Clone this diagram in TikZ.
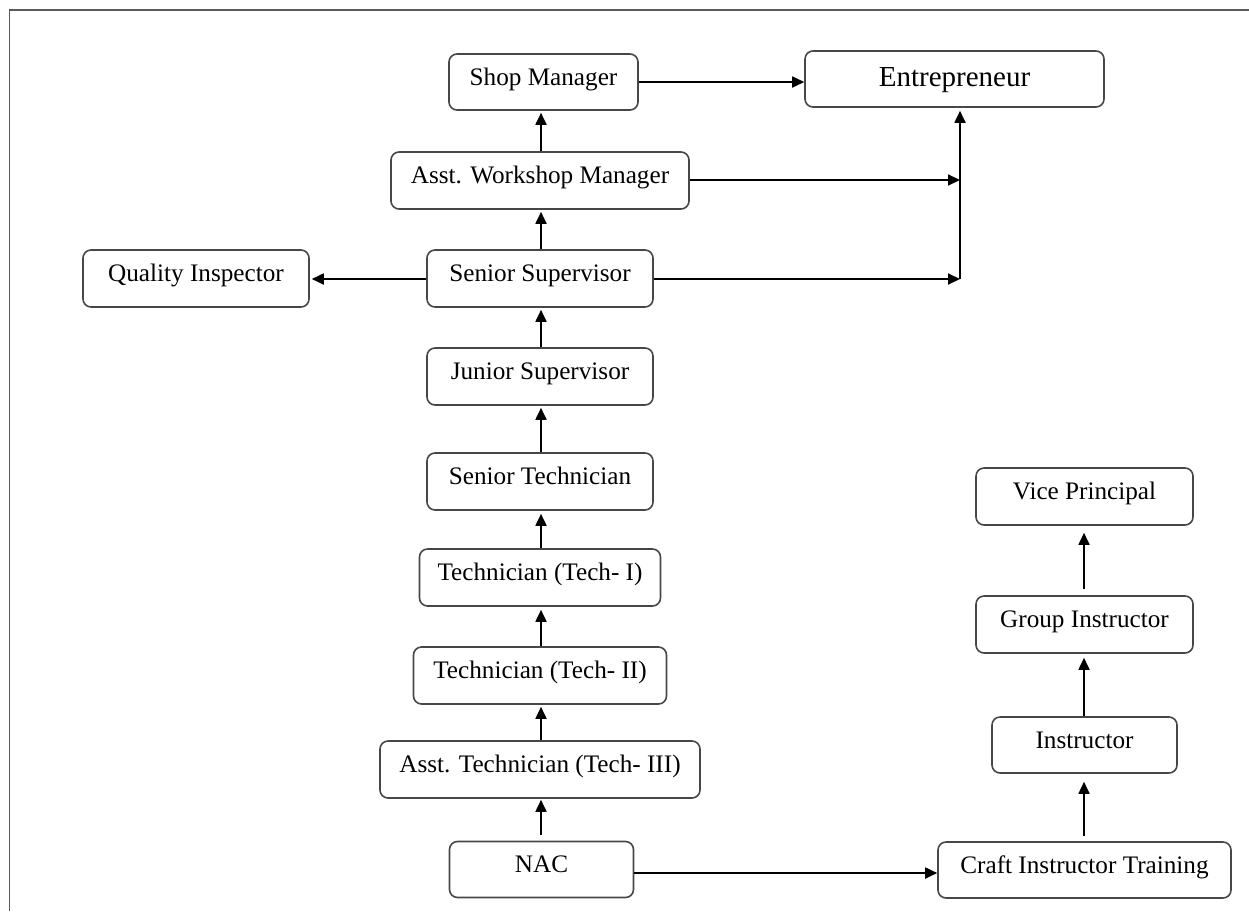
\documentclass[tikz,border=0pt]{standalone}
\usepackage{fontspec}
\setmainfont{Liberation Serif}
\usetikzlibrary{arrows.meta}
\tikzset{
  box/.style={draw=black!72, line width=1.6pt, rounded corners=8pt, fill=white,
    inner sep=0pt, font=\fontsize{25.2}{30}\selectfont, text height=19pt, text depth=13pt},
  bigbox/.style={box, font=\fontsize{29}{34}\selectfont, text height=20pt, text depth=5pt},
  arr/.style={draw=black, line width=1.8pt, -{Triangle[length=12pt,width=11pt]}},
  frameline/.style={draw=black!65, line width=1.6pt}
}
\begin{document}
\begin{tikzpicture}[x=1pt,y=-1pt]
\useasboundingbox (0,0) rectangle (1249,911);
\coordinate (fc) at (9.5,10);
\coordinate (fb) at (9.5,911);
\coordinate (fr) at (1249,10);
\draw[frameline] (fb) -- (fc) -- (fr);

\node[box, minimum width=189pt, minimum height=56pt] (shop) at (543.5,82) {Shop Manager};
\node[bigbox, minimum width=299pt, minimum height=56pt] (entre) at (954.5,79) {Entrepreneur};
\node[box, minimum width=298pt, minimum height=57pt] (awm) at (540,180.5) {Asst. Workshop Manager};
\node[box, minimum width=226pt, minimum height=57pt] (qi) at (196,278.5) {Quality Inspector};
\node[box, minimum width=226pt, minimum height=57pt] (ss) at (540,278.5) {Senior Supervisor};
\node[box, minimum width=226pt, minimum height=57pt] (js) at (540,376.5) {Junior Supervisor};
\node[box, minimum width=226pt, minimum height=57pt] (st) at (540,481.5) {Senior Technician};
\node[box, minimum width=241pt, minimum height=57pt] (t1) at (540,577.5) {Technician (Tech- I)};
\node[box, minimum width=253pt, minimum height=57pt] (t2) at (540,675.5) {Technician (Tech- II)};
\node[box, minimum width=320pt, minimum height=57pt] (t3) at (540,769.5) {Asst. Technician (Tech- III)};
\node[box, minimum width=184pt, minimum height=56pt] (nac) at (541.5,869.5) {NAC};
\node[box, minimum width=293pt, minimum height=56pt] (cit) at (1084.5,870) {Craft Instructor Training};
\node[box, minimum width=185pt, minimum height=56pt] (ins) at (1084.5,745) {Instructor};
\node[box, minimum width=217pt, minimum height=57pt] (gi) at (1084.5,624.5) {Group Instructor};
\node[box, minimum width=217pt, minimum height=57pt] (vp) at (1084.5,496.5) {Vice Principal};

\coordinate (jx) at (960,279);
\coordinate (ja) at (960,180);

% left column
\draw[arr, shorten >=2pt] (awm.north -| 541,0) -- (541,0 |- shop.south);
\draw[arr, shorten >=2pt] (541,0 |- ss.north) -- (541,0 |- awm.south);
\draw[arr, shorten >=2pt] (541,0 |- js.north) -- (541,0 |- ss.south);
\draw[arr, shorten >=2pt] (541,0 |- st.north) -- (541,0 |- js.south);
\draw[arr, shorten >=3pt] (541,0 |- t1.north) -- (541,0 |- st.south);
\draw[arr, shorten >=3pt] (541,0 |- t2.north) -- (541,0 |- t1.south);
\draw[arr, shorten >=2pt] (541,0 |- t3.north) -- (541,0 |- t2.south);
\draw[arr, shorten <=6pt, shorten >=1pt] (541,0 |- nac.north) -- (541,0 |- t3.south);

% horizontals
\draw[arr] (shop.east) -- (shop.east -| entre.west);
\draw[arr, shorten >=2pt] (ss.west |- jx) -- (qi.east |- jx);
\draw[arr] (awm.east |- ja) -- (ja);
\draw[arr] (ss.east |- jx) -- (jx);
\draw[arr, shorten >=3pt] (jx) -- (jx |- entre.south);
\draw[arr] ([yshift=-3.5pt]nac.east) -- ([yshift=-3.5pt]nac.east -| cit.west);

% right column
\draw[arr, shorten <=5pt, shorten >=8pt] (1084,0 |- cit.north) -- (1084,0 |- ins.south);
\draw[arr, shorten >=4pt] (1084,0 |- ins.north) -- (1084,0 |- gi.south);
\draw[arr, shorten <=6pt, shorten >=7pt] (1084,0 |- gi.north) -- (1084,0 |- vp.south);
\end{tikzpicture}
\end{document}
